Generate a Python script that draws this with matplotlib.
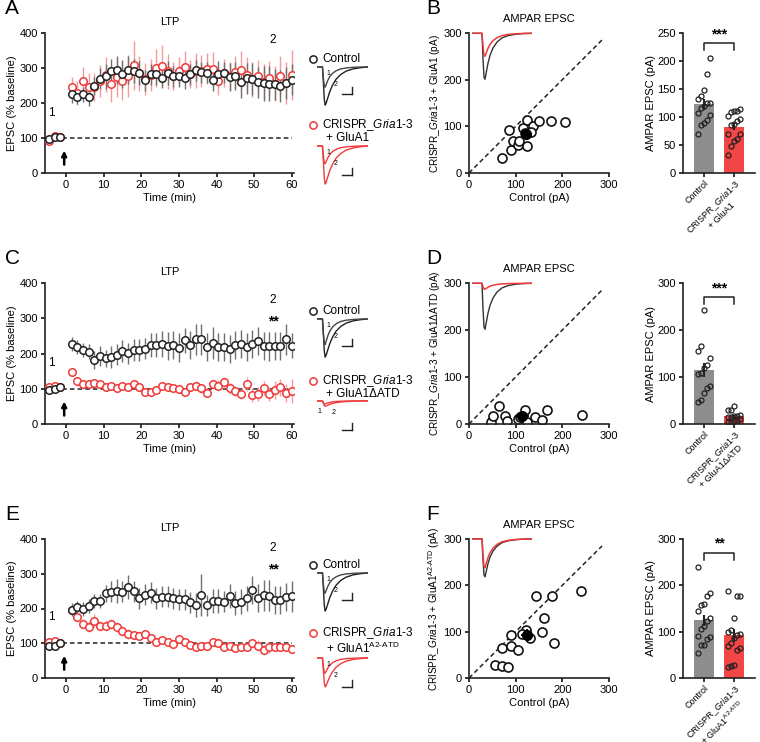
import numpy as np
import matplotlib
matplotlib.use('Agg')
import matplotlib.pyplot as plt

plt.rcParams['font.family'] = ['Liberation Sans', 'DejaVu Sans']
plt.rcParams['font.size'] = 8
plt.rcParams['mathtext.fontset'] = 'custom'
plt.rcParams['mathtext.rm'] = 'Liberation Sans'
plt.rcParams['mathtext.it'] = 'Liberation Sans:italic'
plt.rcParams['axes.linewidth'] = 1.2
plt.rcParams['axes.edgecolor'] = '#222222'
plt.rcParams['xtick.major.size'] = 3
plt.rcParams['ytick.major.size'] = 3
plt.rcParams['xtick.major.width'] = 1.1
plt.rcParams['ytick.major.width'] = 1.1
plt.rcParams['xtick.major.pad'] = 2
plt.rcParams['ytick.major.pad'] = 2

RED = '#f03a3a'
RED_ERR = '#f59a9a'
GREY_ERR = '#707070'
BAR_GREY = '#8e8e8e'
BAR_RED = '#f24545'

# ---------------- data ----------------
time_min = np.concatenate([[-4.5, -3.0, -1.5], np.arange(1.5, 60.01, 1.5)])

a_ctrl = [96, 102, 104,
          225, 217, 225, 217, 248, 269, 276, 291, 295, 284, 295, 291, 286, 265,
          282, 282, 272, 286, 276, 276, 270, 282, 293, 288, 286, 265, 284, 286,
          274, 276, 259, 270, 269, 259, 257, 255, 253, 248, 257, 267]
a_ctrl_err = [8, 6, 5,
              25, 20, 22, 25, 25, 30, 35, 35, 40, 40, 40, 35, 35, 30, 30, 30,
              30, 35, 30, 30, 30, 30, 30, 30, 30, 30, 35, 30, 40, 40, 45, 45,
              45, 45, 50, 50, 45, 45, 45, 45]
a_red = [91, 106, 102,
         245, 228, 262, 247, 246, 263, 280, 253, 273, 264, 278, 308, 285, 268,
         280, 300, 306, 290, 276, 290, 303, 282, 292, 292, 298, 296, 263, 285,
         276, 288, 294, 281, 268, 277, 260, 270, 255, 278, 256, 280]
a_red_err = [8, 8, 6,
             30, 35, 40, 40, 40, 45, 50, 50, 55, 55, 60, 70, 50, 45, 45, 55,
             60, 50, 40, 40, 45, 40, 50, 45, 45, 50, 40, 40, 40, 45, 55, 50,
             50, 45, 50, 50, 50, 55, 60, 70]

c_ctrl = [97, 100, 104,
          227, 218, 210, 205, 182, 193, 186, 190, 196, 207, 201, 210, 210, 213,
          224, 224, 227, 222, 224, 217, 237, 223, 240, 240, 218, 229, 218, 218,
          213, 224, 227, 218, 227, 236, 222, 220, 222, 222, 240, 222]
c_ctrl_err = [8, 6, 5,
              20, 20, 20, 22, 25, 28, 25, 30, 30, 30, 30, 30, 30, 30, 35, 35,
              38, 40, 40, 40, 35, 40, 45, 45, 40, 45, 40, 40, 40, 40, 40, 40,
              40, 40, 40, 40, 40, 40, 45, 35]
c_red = [104, 109, 104,
         147, 121, 114, 114, 117, 114, 106, 109, 101, 109, 105, 113, 106, 90,
         90, 97, 109, 106, 101, 98, 92, 106, 109, 101, 88, 114, 109, 118,
         101, 94, 85, 113, 81, 85, 102, 85, 97, 104, 88, 94]
c_red_err = [10, 8, 6,
             10, 12, 12, 12, 12, 12, 10, 10, 10, 10, 10, 12, 10, 10, 10, 12,
             10, 10, 10, 10, 10, 10, 12, 12, 12, 15, 15, 15, 15, 15, 15, 20,
             20, 20, 20, 20, 25, 25, 25, 35]

e_ctrl = [93, 93, 100,
          197, 205, 199, 207, 221, 222, 244, 248, 251, 248, 261, 250, 229, 240,
          246, 229, 234, 234, 229, 227, 227, 218, 210, 238, 209, 222, 222, 220,
          236, 215, 220, 229, 253, 231, 238, 237, 225, 224, 234, 235]
e_ctrl_err = [8, 6, 5,
              20, 18, 20, 20, 20, 20, 25, 30, 35, 30, 35, 30, 30, 30, 30, 30,
              30, 30, 30, 30, 30, 30, 35, 60, 30, 35, 35, 30, 35, 35, 35, 35,
              40, 40, 45, 45, 40, 40, 40, 45]
e_red = [103, 107, 100,
         195, 175, 156, 148, 165, 150, 151, 155, 146, 136, 127, 123, 122, 127,
         116, 103, 109, 103, 97, 112, 105, 95, 90, 93, 92, 105, 100, 88,
         93, 87, 88, 90, 102, 93, 81, 88, 88, 88, 88, 83]
e_red_err = [10, 10, 6,
             12, 15, 15, 15, 18, 15, 15, 15, 15, 15, 15, 12, 12, 12, 12, 10,
             10, 10, 10, 10, 10, 10, 10, 10, 10, 10, 10, 10, 10, 10, 10, 10,
             10, 15, 15, 15, 10, 10, 10, 10]

# paired AMPAR EPSC amplitudes (pA): control vs CRISPR cell
b_ctrl = [70, 89, 86, 94, 104, 107, 116, 125, 125, 138, 149, 176, 206, 120, 132]
b_red = [32, 49, 93, 69, 61, 69, 96, 114, 57, 101, 111, 111, 109, 85, 88]
d_ctrl = [47, 52, 65, 77, 81, 106, 119, 125, 141, 156, 167, 242, 109]
d_red = [5, 17, 38, 17, 6, 11, 29, 5, 15, 9, 29, 20, 14]
f_ctrl = [55, 71, 84, 71, 90, 106, 89, 122, 130, 157, 160, 144, 177, 183, 239, 113]
f_red = [27, 25, 24, 65, 68, 60, 92, 104, 86, 99, 129, 178, 176, 76, 187, 94]

# example EPSC trace shapes (normalised)
trace_t = [0, 8, 10, 11, 12, 13, 14, 16, 18, 21, 25, 30, 36, 44, 52, 60]
trace_fast = [0, 0, 0, -0.55, -0.95, -1.0, -0.88, -0.65, -0.48, -0.32, -0.19,
              -0.1, -0.05, -0.02, -0.005, 0]
trace_slow = [0, 0, 0, -0.4, -0.85, -1.0, -0.95, -0.8, -0.65, -0.48, -0.32,
              -0.2, -0.11, -0.05, -0.02, 0]

gria = r'CRISPR_$\it{Gria1}$-$\it{3}$'
a2 = r'$^{\mathrm{A2' + '\u2010' + r'ATD}}$'
rows = [
    dict(letter='A', top=33, bot=173, ctrl=a_ctrl, ctrl_err=a_ctrl_err, red=a_red, red_err=a_red_err,
         stars=None, one_y=171, two_y=380, star_y=None,
         sc_ctrl=b_ctrl, sc_red=b_red, grp='+ GluA1',
         ylab=gria + ' + GluA1 (pA)', bar_ylim=250, bar_ticks=[0, 50, 100, 150, 200, 250],
         sig='***', brk=232,
         amp_ctrl=(0.53, 1.0), amp_red=(0.47, 1.0), amp_sc=0.5,
         leg_c=59, leg_r=125, grp_gap=13, red_gap=21),
    dict(letter='C', top=283, bot=424, ctrl=c_ctrl, ctrl_err=c_ctrl_err, red=c_red, red_err=c_red_err,
         stars='**', one_y=173, two_y=352, star_y=292,
         sc_ctrl=d_ctrl, sc_red=d_red, grp='+ GluA1ΔATD',
         ylab=gria + ' + GluA1ΔATD (pA)', bar_ylim=300, bar_ticks=[0, 100, 200, 300],
         sig='***', brk=270,
         amp_ctrl=(0.67, 1.0), amp_red=(0.08, 0.14), amp_sc=0.13,
         leg_c=311, leg_r=381, grp_gap=13, red_gap=20),
    dict(letter='E', top=539, bot=678, ctrl=e_ctrl, ctrl_err=e_ctrl_err, red=e_red, red_err=e_red_err,
         stars='**', one_y=175, two_y=374, star_y=313,
         sc_ctrl=f_ctrl, sc_red=f_red, grp='+ GluA1' + a2,
         ylab=gria + ' + GluA1' + a2 + ' (pA)', bar_ylim=300, bar_ticks=[0, 100, 200, 300],
         sig='**', brk=270,
         amp_ctrl=(0.53, 1.0), amp_red=(0.4, 0.76), amp_sc=0.76,
         leg_c=565, leg_r=633, grp_gap=15, red_gap=25),
]
sc_letters = ['B', 'D', 'F']

W, H = 760, 742
fig = plt.figure(figsize=(7.6, 7.42), dpi=100)


def px_axes(l, t, r, b):
    return fig.add_axes([l / W, 1 - b / H, (r - l) / W, (b - t) / H])


def clean(ax):
    ax.spines['top'].set_visible(False)
    ax.spines['right'].set_visible(False)


def trace_axes(l, t, r, b, xlim=(4, 60)):
    ax = px_axes(l, t, r, b)
    ax.set_xlim(*xlim)
    ax.set_ylim(-1.05, 0.05)
    ax.axis('off')
    return ax


overlay = fig.add_axes([0, 0, 1, 1])
overlay.set_xlim(0, W)
overlay.set_ylim(H, 0)
overlay.axis('off')


def scalebar(x, y, right=True):
    xv = x + 10 if right else x
    overlay.plot([x, x + 10], [y, y], color='#222222', lw=1)
    overlay.plot([xv, xv], [y, y - 7], color='#222222', lw=1)


for i, r in enumerate(rows):
    top, bot = r['top'], r['bot']

    # ---------- time course ----------
    ax = px_axes(45, top, 294, bot)
    clean(ax)
    ax.errorbar(time_min, r['red'], yerr=r['red_err'], fmt='none', ecolor=RED_ERR, elinewidth=1, zorder=2)
    ax.errorbar(time_min, r['ctrl'], yerr=r['ctrl_err'], fmt='none', ecolor=GREY_ERR, elinewidth=1, zorder=2)
    ax.plot(time_min, r['red'], 'o', ms=5.4, mfc='white', mec=RED, mew=1.1, zorder=3)
    ax.plot(time_min, r['ctrl'], 'o', ms=5.4, mfc='white', mec='#222222', mew=1.1, zorder=4)
    ax.plot([-5, 60], [100, 100], color='#222222', lw=1.1, ls=(0, (3, 2)), zorder=1)
    ax.set_xlim(-5.6, 60.6)
    ax.set_ylim(0, 400)
    ax.set_xticks([0, 10, 20, 30, 40, 50, 60])
    ax.set_yticks([0, 100, 200, 300, 400])
    ax.set_ylabel('EPSC (% baseline)', labelpad=2)
    ax.set_xlabel('Time (min)', labelpad=2)
    ax.set_title('LTP', fontsize=8, pad=6)
    ax.annotate('', xy=(-0.5, 64), xytext=(-0.5, 24),
                arrowprops=dict(arrowstyle='-|>', color='black', lw=1.8, mutation_scale=7,
                                shrinkA=0, shrinkB=0))
    ax.text(-3.8, r['one_y'], '1', fontsize=8.5, ha='center', va='center')
    ax.text(55, r['two_y'], '2', fontsize=8.5, ha='center', va='center')
    if r['stars']:
        ax.text(55, r['star_y'], r['stars'], fontsize=10, fontweight='bold', ha='center', va='center')
    fig.text(5 / W, 1 - (top - 24) / H, r['letter'], fontsize=15, va='center')

    # ---------- legend and example traces ----------
    overlay.plot(313, r['leg_c'], 'o', ms=5.2, mfc='white', mec='#222222', mew=1.1)
    overlay.text(322, r['leg_c'], 'Control', fontsize=8.5, va='center')
    overlay.plot(313, r['leg_r'], 'o', ms=5.2, mfc='white', mec=RED, mew=1.1)
    overlay.text(322, r['leg_r'], gria, fontsize=8.5, va='center')
    overlay.text(326, r['leg_r'] + r['grp_gap'], r['grp'], fontsize=8.5, va='center')

    cb = r['leg_c'] + 8
    tc = trace_axes(317, cb - 2, 368, cb + 40)
    tc.plot(trace_t, np.array(trace_slow) * r['amp_ctrl'][1], color='#222222', lw=1)
    tc.plot(trace_t, np.array(trace_fast) * r['amp_ctrl'][0], color='#444444', lw=1)
    tc.text(14, -0.22, '1', fontsize=5)
    tc.text(22, -0.5, '2', fontsize=5)
    scalebar(342, cb + 27)

    rb = r['leg_r'] + r['red_gap']
    tr = trace_axes(317, rb - 2, 368, rb + 40)
    tr.plot(trace_t, np.array(trace_slow) * r['amp_red'][1], color=RED, lw=1)
    tr.plot(trace_t, np.array(trace_fast) * r['amp_red'][0], color=RED, lw=1)
    if r['amp_red'][1] < 0.3:
        tr.text(5, -0.32, '1', fontsize=5)
        tr.text(20, -0.35, '2', fontsize=5)
    else:
        tr.text(14, -0.22, '1', fontsize=5)
        tr.text(22, -0.5, '2', fontsize=5)
    scalebar(342, rb + 29)

    # ---------- scatter ----------
    sx, sy = np.array(r['sc_ctrl']), np.array(r['sc_red'])
    ax = px_axes(469, top, 609, bot)
    clean(ax)
    ax.plot([0, 285], [0, 285], color='#222222', lw=1.1, ls=(0, (3, 2)))
    ax.plot(sx, sy, 'o', ms=6.5, mfc='white', mec='#111111', mew=1.2)
    ax.errorbar(sx.mean(), sy.mean(),
                xerr=sx.std(ddof=1) / np.sqrt(len(sx)), yerr=sy.std(ddof=1) / np.sqrt(len(sy)),
                fmt='o', ms=7, color='black', elinewidth=1.3, capsize=0)
    ax.set_xlim(0, 300)
    ax.set_ylim(0, 300)
    ax.set_xticks([0, 100, 200, 300])
    ax.set_yticks([0, 100, 200, 300])
    ax.set_xlabel('Control (pA)', labelpad=2)
    ax.set_ylabel(r['ylab'], labelpad=1, fontsize=7.2)
    ax.set_title('AMPAR EPSC', fontsize=8, pad=8)
    fig.text(426 / W, 1 - (top - 24) / H, sc_letters[i], fontsize=15, va='center')

    amp = 46 if i < 2 else 38
    ts = trace_axes(472, top - 2, 532, top - 2 + amp * 1.1, xlim=(0, 60))
    ts.plot(trace_t, trace_fast, color='#333333', lw=1)
    ts.plot(trace_t, np.array(trace_fast) * r['amp_sc'], color=RED, lw=1.1)
    scalebar(506, top + 28, right=(i > 0))

    # ---------- bar chart ----------
    ax = px_axes(683, top, 755, bot)
    clean(ax)
    means = [sx.mean(), sy.mean()]
    sems = [sx.std(ddof=1) / np.sqrt(len(sx)), sy.std(ddof=1) / np.sqrt(len(sy))]
    ax.bar([0, 1], means, width=0.67, color=[BAR_GREY, BAR_RED], zorder=1)
    for k, vals in enumerate([sx, sy]):
        order = np.argsort(vals)
        jit = ((np.arange(len(vals)) % 5) - 2) * 0.1
        ax.plot(k + jit, vals[order], 'o', ms=3.6, mfc='none', mec='#222222', mew=0.9, zorder=3)
    ax.errorbar([0, 1], means, yerr=sems, fmt='none', ecolor='#222222', elinewidth=1.5, capsize=0, zorder=4)
    ax.set_xlim(-0.7, 1.7)
    ax.set_ylim(0, r['bar_ylim'])
    ax.set_yticks(r['bar_ticks'])
    ax.set_xticks([0, 1])
    ax.tick_params(axis='x', pad=1)
    ax.set_xticklabels(['Control', gria + '\n' + r['grp']], rotation=45, ha='right',
                       rotation_mode='anchor', multialignment='center', fontsize=6.5,
                       linespacing=1.05)
    ax.set_ylabel('AMPAR EPSC (pA)', labelpad=1)
    yb = r['brk']
    drop = r['bar_ylim'] * 0.05
    ax.plot([0, 0, 1, 1], [yb - drop, yb, yb, yb - drop], color='#222222', lw=1.1, clip_on=False)
    ax.text(0.5, yb + r['bar_ylim'] * 0.015, r['sig'], fontsize=10, fontweight='bold', ha='center', va='bottom')

fig.savefig('out.png', dpi=100)
